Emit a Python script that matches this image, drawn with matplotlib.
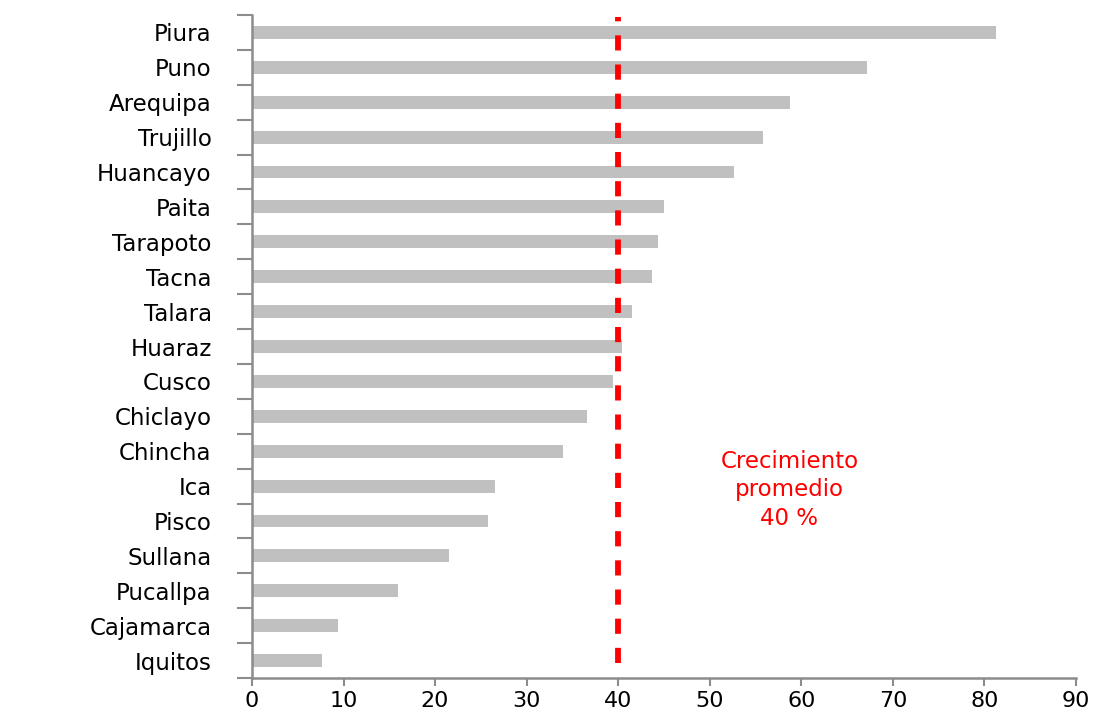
import matplotlib
matplotlib.use("Agg")
import matplotlib.pyplot as plt
import numpy as np

cities = ["Piura", "Puno", "Arequipa", "Trujillo", "Huancayo", "Paita", "Tarapoto",
          "Tacna", "Talara", "Huaraz", "Cusco", "Chiclayo", "Chincha", "Ica", "Pisco",
          "Sullana", "Pucallpa", "Cajamarca", "Iquitos"]
growth = [81.3, 67.2, 58.8, 55.8, 52.6, 45.0, 44.3, 43.7, 41.5, 40.4, 39.4, 36.6,
          34.0, 26.6, 25.8, 21.5, 16.0, 9.4, 7.6]
average = 40
avg_label = "Crecimiento\npromedio\n40 %"
xticks = list(range(0, 100, 10))

plt.rcParams['font.family'] = ['DejaVu Sans']

fig = plt.figure(figsize=(10.94, 7.13), dpi=100)
ax = fig.add_axes([0.2303, 0.049, 0.7532, 0.930])

pos = np.arange(len(cities))
ax.barh(pos, growth, height=0.37, color="#c0c0c0", zorder=2)

ax.axvline(average, ymin=0.023, ymax=0.997, color="#ff0000", lw=4.2,
           dashes=(2.6, 2.4), zorder=3)

ax.text(58.7, 13.1, avg_label, color="#ff0000", fontsize=16.5, ha="center",
        va="center", linespacing=1.3)

ax.set_xlim(0, 90)
ax.set_ylim(len(cities) - 0.5, -0.5)

ax.set_xticks(xticks)
ax.set_xticklabels([str(t) for t in xticks], fontsize=16, color="#000000")
ax.tick_params(axis="x", length=6, width=1.5, color="#8c8c8c", pad=3)

ax.set_yticks(np.arange(-0.5, len(cities), 1.0))
ax.set_yticklabels([])
ax.tick_params(axis="y", which="major", length=11, width=1.5, color="#8c8c8c")
ax.set_yticks(pos, minor=True)
ax.set_yticklabels(cities, minor=True, fontsize=16.5)
ax.tick_params(axis="y", which="minor", length=0, pad=29)

for s in ["top", "right"]:
    ax.spines[s].set_visible(False)
for s in ["left", "bottom"]:
    ax.spines[s].set_color("#8c8c8c")
    ax.spines[s].set_linewidth(1.8)

fig.savefig("out.png", dpi=100)
